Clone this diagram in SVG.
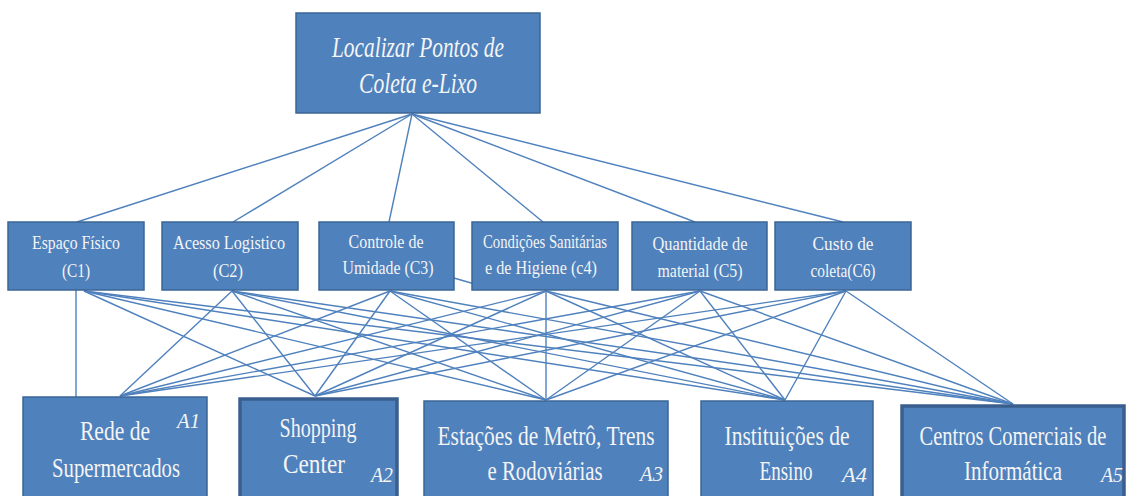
<svg xmlns="http://www.w3.org/2000/svg" width="1126" height="496" viewBox="0 0 1126 496">
<style>
.box{fill:#4F81BD;stroke:#3B6595;stroke-width:1.5}
.boxb{fill:#4F81BD;stroke:#3A5F8E;stroke-width:3.5}
.ln{stroke:#4F81BD;stroke-width:1.4;fill:none}
text{font-family:"Liberation Serif","Times New Roman",serif;fill:#F4F4F4;text-anchor:middle}
.t{font-size:29px;font-style:italic}
.c{font-size:19px}
.a{font-size:27px}
.l{font-size:22px;font-style:italic;text-anchor:start}
</style>
<rect width="1126" height="496" fill="#FFFFFF"/>
<g id="connectors" class="ln">
<line x1="412" y1="114" x2="77" y2="222"/>
<line x1="412" y1="114" x2="233" y2="222"/>
<line x1="412" y1="114" x2="389" y2="222"/>
<line x1="412" y1="114" x2="543" y2="222"/>
<line x1="412" y1="114" x2="695" y2="222"/>
<line x1="412" y1="114" x2="843" y2="222"/>
<line x1="76" y1="290" x2="76" y2="397"/>
<line x1="84" y1="291" x2="315" y2="396"/>
<line x1="84" y1="291" x2="546" y2="400"/>
<line x1="84" y1="291" x2="785" y2="400"/>
<line x1="84" y1="291" x2="1013" y2="404"/>
<line x1="232" y1="291" x2="120" y2="396"/>
<line x1="232" y1="291" x2="315" y2="396"/>
<line x1="232" y1="291" x2="546" y2="400"/>
<line x1="232" y1="291" x2="785" y2="400"/>
<line x1="232" y1="291" x2="1013" y2="404"/>
<line x1="390" y1="291" x2="120" y2="396"/>
<line x1="390" y1="291" x2="315" y2="396"/>
<line x1="390" y1="291" x2="546" y2="400"/>
<line x1="390" y1="291" x2="785" y2="400"/>
<line x1="390" y1="291" x2="1013" y2="404"/>
<line x1="546" y1="291" x2="120" y2="396"/>
<line x1="546" y1="291" x2="315" y2="396"/>
<line x1="546" y1="291" x2="546" y2="400"/>
<line x1="546" y1="291" x2="785" y2="400"/>
<line x1="546" y1="291" x2="1013" y2="404"/>
<line x1="700" y1="291" x2="120" y2="396"/>
<line x1="700" y1="291" x2="315" y2="396"/>
<line x1="700" y1="291" x2="546" y2="400"/>
<line x1="700" y1="291" x2="785" y2="400"/>
<line x1="700" y1="291" x2="1013" y2="404"/>
<line x1="846" y1="291" x2="120" y2="396"/>
<line x1="846" y1="291" x2="315" y2="396"/>
<line x1="846" y1="291" x2="546" y2="400"/>
<line x1="846" y1="291" x2="785" y2="400"/>
<line x1="846" y1="291" x2="1013" y2="404"/>
<line x1="440" y1="274" x2="485" y2="287"/>
</g>
<g id="goal">
<rect class="box" x="296" y="13" width="244" height="100"/>
<text class="t" x="418" y="57" textLength="172" lengthAdjust="spacingAndGlyphs">Localizar Pontos de</text>
<text class="t" x="418" y="93" textLength="118" lengthAdjust="spacingAndGlyphs">Coleta e-Lixo</text>
</g>
<g id="C1">
<rect class="box" x="8" y="222" width="136" height="68"/>
<text class="c" x="76" y="249" textLength="88" lengthAdjust="spacingAndGlyphs">Espaço Físico</text>
<text class="c" x="76" y="277" textLength="28" lengthAdjust="spacingAndGlyphs">(C1)</text>
</g>
<g id="C2">
<rect class="box" x="162" y="222" width="136" height="68"/>
<text class="c" x="229" y="249" textLength="112" lengthAdjust="spacingAndGlyphs">Acesso Logistico</text>
<text class="c" x="228" y="277" textLength="30" lengthAdjust="spacingAndGlyphs">(C2)</text>
</g>
<g id="C3">
<rect class="box" x="319" y="222" width="135" height="68"/>
<text class="c" x="386" y="248" textLength="75" lengthAdjust="spacingAndGlyphs">Controle de</text>
<text class="c" x="388" y="274" textLength="91" lengthAdjust="spacingAndGlyphs">Umidade (C3)</text>
</g>
<g id="C4">
<rect class="box" x="472" y="222" width="146" height="68"/>
<text class="c" x="545" y="248" textLength="124" lengthAdjust="spacingAndGlyphs">Condições Sanitárias</text>
<text class="c" x="541" y="274" textLength="112" lengthAdjust="spacingAndGlyphs">e de Higiene (c4)</text>
</g>
<g id="C5">
<rect class="box" x="632" y="222" width="135" height="68"/>
<text class="c" x="700" y="250" textLength="95" lengthAdjust="spacingAndGlyphs">Quantidade de</text>
<text class="c" x="700" y="277" textLength="85" lengthAdjust="spacingAndGlyphs">material (C5)</text>
</g>
<g id="C6">
<rect class="box" x="775" y="222" width="136" height="68"/>
<text class="c" x="843" y="250" textLength="61" lengthAdjust="spacingAndGlyphs">Custo  de</text>
<text class="c" x="843" y="277" textLength="65" lengthAdjust="spacingAndGlyphs">coleta(C6)</text>
</g>
<g id="A1">
<rect class="box" x="23" y="397" width="184" height="102"/>
<text class="a" x="115" y="440" textLength="70" lengthAdjust="spacingAndGlyphs">Rede de</text>
<text class="a" x="116" y="477" textLength="128" lengthAdjust="spacingAndGlyphs">Supermercados</text>
<text class="l" x="177" y="428" textLength="23" lengthAdjust="spacingAndGlyphs">A1</text>
</g>
<g id="A2">
<rect class="boxb" x="240" y="399" width="157" height="100"/>
<text class="a" x="318" y="437" textLength="77" lengthAdjust="spacingAndGlyphs">Shopping</text>
<text class="a" x="314" y="473" textLength="62" lengthAdjust="spacingAndGlyphs">Center</text>
<text class="l" x="371" y="482" textLength="22" lengthAdjust="spacingAndGlyphs">A2</text>
</g>
<g id="A3">
<rect class="box" x="424" y="401" width="244" height="98"/>
<text class="a" x="546" y="445" textLength="217" lengthAdjust="spacingAndGlyphs">Estações de Metrô, Trens</text>
<text class="a" x="545" y="480" textLength="115" lengthAdjust="spacingAndGlyphs">e Rodoviárias</text>
<text class="l" x="640" y="481" textLength="23" lengthAdjust="spacingAndGlyphs">A3</text>
</g>
<g id="A4">
<rect class="box" x="701" y="401" width="172" height="98"/>
<text class="a" x="787" y="445" textLength="125" lengthAdjust="spacingAndGlyphs">Instituições de</text>
<text class="a" x="786" y="480" textLength="53" lengthAdjust="spacingAndGlyphs">Ensino</text>
<text class="l" x="842" y="482" textLength="25" lengthAdjust="spacingAndGlyphs">A4</text>
</g>
<g id="A5">
<rect class="boxb" x="902" y="406" width="222" height="95"/>
<text class="a" transform="translate(1013,445) scale(0.76,1)" x="0" y="0">Centros Comerciais de</text>
<text class="a" x="1013" y="480" textLength="98" lengthAdjust="spacingAndGlyphs">Informática</text>
<text class="l" x="1101" y="482" textLength="22" lengthAdjust="spacingAndGlyphs">A5</text>
</g>
</svg>
